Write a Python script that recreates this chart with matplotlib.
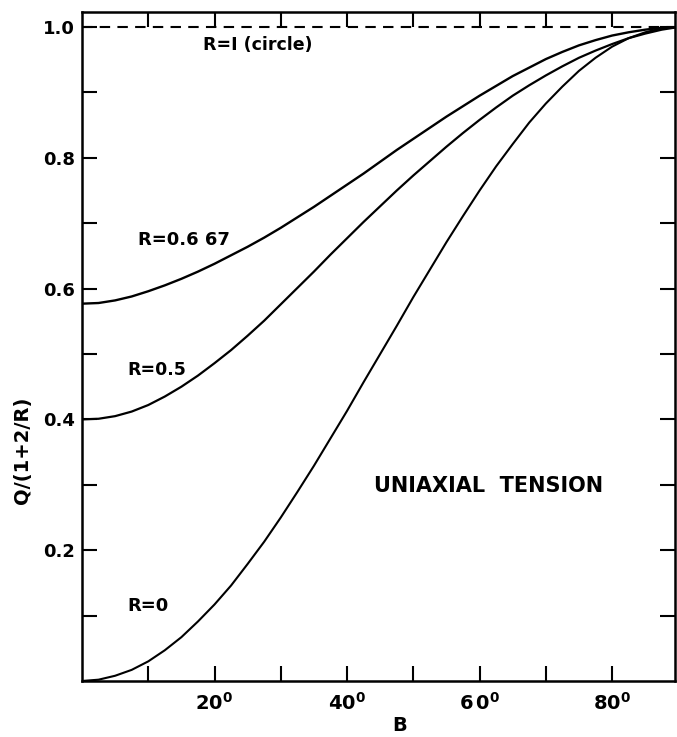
import matplotlib
matplotlib.use("Agg")
import matplotlib.pyplot as plt

# angle B in degrees, every 2.5 deg
angles = [0, 2.5, 5, 7.5, 10, 12.5, 15, 17.5, 20, 22.5, 25, 27.5, 30, 32.5,
          35, 37.5, 40, 42.5, 45, 47.5, 50, 52.5, 55, 57.5, 60, 62.5, 65,
          67.5, 70, 72.5, 75, 77.5, 80, 82.5, 85, 87.5, 90]

# Q/(1+2/R)
r_0 = [0.000, 0.002, 0.008, 0.017, 0.030, 0.047, 0.067, 0.091, 0.117, 0.146,
       0.179, 0.213, 0.250, 0.289, 0.329, 0.371, 0.413, 0.457, 0.500, 0.543,
       0.587, 0.629, 0.671, 0.711, 0.750, 0.787, 0.821, 0.854, 0.883, 0.909,
       0.933, 0.953, 0.970, 0.983, 0.992, 0.998, 1.000]
r_05 = [0.400, 0.401, 0.405, 0.412, 0.422, 0.435, 0.450, 0.467, 0.486, 0.506,
        0.528, 0.551, 0.576, 0.601, 0.626, 0.652, 0.677, 0.702, 0.726, 0.750,
        0.773, 0.795, 0.817, 0.838, 0.858, 0.877, 0.895, 0.911, 0.926, 0.940,
        0.953, 0.964, 0.974, 0.983, 0.990, 0.996, 1.000]
r_0667 = [0.577, 0.578, 0.582, 0.588, 0.596, 0.605, 0.615, 0.626, 0.638, 0.651,
          0.664, 0.678, 0.693, 0.709, 0.725, 0.742, 0.759, 0.776, 0.794, 0.812,
          0.829, 0.846, 0.863, 0.879, 0.895, 0.910, 0.925, 0.938, 0.951, 0.962,
          0.972, 0.980, 0.987, 0.992, 0.996, 0.999, 1.000]
circle = [1.0, 1.0]

x_ticks = [10, 20, 30, 40, 50, 60, 70, 80]
x_labels = ["", "$\\mathbf{20^0}$", "", "$\\mathbf{40^0}$", "",
            "$\\mathbf{6\\,0^0}$", "", "$\\mathbf{80^0}$"]
y_ticks = [0.1, 0.2, 0.3, 0.4, 0.5, 0.6, 0.7, 0.8, 0.9, 1.0]
y_labels = ["", "0.2", "", "0.4", "", "0.6", "", "0.8", "", "1.0"]

plt.rcParams['font.family'] = ['DejaVu Sans']
plt.rcParams['font.weight'] = 'bold'

fig = plt.figure(figsize=(6.77, 7.37), dpi=100)
ax = fig.add_axes([0.1211, 0.076, 0.876, 0.9077])

# curves
ax.plot(angles, r_0, color="black", lw=1.5)
ax.plot(angles, r_05, color="black", lw=1.6)
ax.plot(angles, r_0667, color="black", lw=1.7)
ax.plot([0, 90], circle, color="black", lw=1.5, linestyle=(0, (5, 3.5)))

ax.set_xlim(0, 89.5)
ax.set_ylim(0, 1.023)

ax.set_xticks(x_ticks)
ax.set_xticklabels(x_labels, fontsize=14)
ax.set_yticks(y_ticks)
ax.set_yticklabels(y_labels, fontsize=13, fontweight="bold")
ax.tick_params(direction="in", length=11, width=1.5, top=True, right=True)
ax.tick_params(axis="y", pad=5)
ax.tick_params(axis="x", pad=8)
for s in ax.spines.values():
    s.set_linewidth(1.8)

ax.set_xlabel("B", fontsize=14, fontweight="bold")
ax.xaxis.set_label_coords(0.535, -0.052)
ax.set_ylabel("Q/(1+2/R)", fontsize=14, fontweight="bold")
ax.yaxis.set_label_coords(-0.084, 0.345)

# annotations
ax.text(26.5, 0.972, "R=I (circle)", fontsize=12.5, fontweight="bold",
        ha="center", va="center")
ax.text(8.5, 0.674, "R=0.6 67", fontsize=13, fontweight="bold",
        ha="left", va="center")
ax.text(6.9, 0.476, "R=0.5", fontsize=12.5, fontweight="bold",
        ha="left", va="center")
ax.text(6.8, 0.115, "R=0", fontsize=13, fontweight="bold",
        ha="left", va="center")
ax.text(44.0, 0.298, "UNIAXIAL  TENSION", fontsize=15, fontweight="bold",
        ha="left", va="center")

fig.savefig("out.png", dpi=100)
